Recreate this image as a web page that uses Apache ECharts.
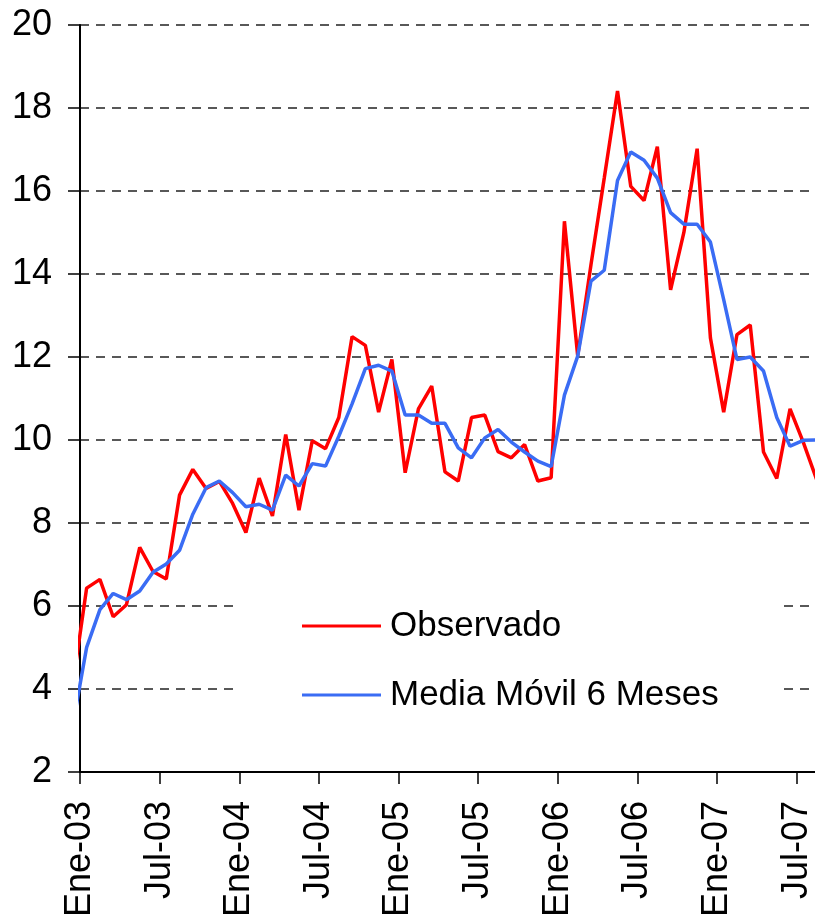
<!DOCTYPE html>
<html>
<head>
<meta charset="utf-8">
<script src="https://cdn.jsdelivr.net/npm/echarts@6/dist/echarts.min.js"></script>
<style>
  body { margin: 0; background: #fff; }
  #chart { width: 815px; height: 920px; }
</style>
</head>
<body>
<div id="chart"></div>
<script>
// meses: Dic-02 ... Ago-07 (el primero y el ultimo quedan fuera del recorte)
var meses = ['Dic-02',
    'Ene-03','Feb-03','Mar-03','Abr-03','May-03','Jun-03','Jul-03','Ago-03','Sep-03','Oct-03','Nov-03','Dic-03',
    'Ene-04','Feb-04','Mar-04','Abr-04','May-04','Jun-04','Jul-04','Ago-04','Sep-04','Oct-04','Nov-04','Dic-04',
    'Ene-05','Feb-05','Mar-05','Abr-05','May-05','Jun-05','Jul-05','Ago-05','Sep-05','Oct-05','Nov-05','Dic-05',
    'Ene-06','Feb-06','Mar-06','Abr-06','May-06','Jun-06','Jul-06','Ago-06','Sep-06','Oct-06','Nov-06','Dic-06',
    'Ene-07','Feb-07','Mar-07','Abr-07','May-07','Jun-07','Jul-07','Ago-07'];

var observado = [4.2,
    6.43, 6.64, 5.74, 6.03, 7.41, 6.83, 6.65, 8.67, 9.29, 8.83, 9.00, 8.47,
    7.77, 9.08, 8.17, 10.13, 8.31, 9.98, 9.79, 10.54, 12.49, 12.28, 10.67, 11.94,
    9.21, 10.75, 11.30, 9.23, 9.01, 10.54, 10.60, 9.72, 9.57, 9.89, 9.01, 9.09,
    15.27, 12.03, 14.22, 16.31, 18.41, 16.11, 15.77, 17.07, 13.62, 15.00, 17.02, 12.46,
    10.67, 12.54, 12.77, 9.71, 9.07, 10.75, 9.94, 9.05];

var mediaMovil = [3.2,
    5.00, 5.91, 6.30, 6.15, 6.36, 6.81, 7.01, 7.34, 8.21, 8.85, 9.01, 8.73,
    8.39, 8.45, 8.31, 9.15, 8.89, 9.43, 9.37, 10.09, 10.87, 11.72, 11.80, 11.66,
    10.60, 10.60, 10.40, 10.40, 9.81, 9.57, 10.05, 10.25, 9.95, 9.71, 9.49, 9.36,
    11.08, 12.02, 13.83, 14.09, 16.25, 16.94, 16.74, 16.31, 15.48, 15.20, 15.20, 14.77,
    13.38, 11.94, 12.00, 11.66, 10.54, 9.85, 9.99, 10.00];

var etiquetas = ['Ene-03','Jul-03','Ene-04','Jul-04','Ene-05','Jul-05','Ene-06','Jul-06','Ene-07','Jul-07'];

var fuente = 'Liberation Sans, Arial, sans-serif';

// cada dato a mitad de mes; eje x en meses desde Ene-03
function puntos(valores){
    var out = [];
    for (var i = 0; i < valores.length; i++){
        out.push([i - 0.5, valores[i]]);
    }
    return out;
}

var myChart = echarts.init(document.getElementById('chart'));

var xAxis = {
    type: 'value',
    min: 0,
    max: 55.38,
    interval: 6,
    axisLine: {show: true, onZero: false, lineStyle: {color: '#000', width: 2}},
    axisTick: {show: true, length: 12, lineStyle: {color: '#000', width: 1.5}},
    splitLine: {show: false},
    axisLabel: {
        rotate: 90,
        margin: 29,
        fontSize: 36,
        color: '#000',
        fontFamily: fuente,
        showMaxLabel: false,
        formatter: function(v){
            var i = Math.round(v / 6);
            return Math.abs(v - i * 6) < 0.01 && etiquetas[i] ? etiquetas[i] : '';
        }
    }
};

var yAxis = {
    type: 'value',
    min: 2,
    max: 20,
    interval: 2,
    axisLine: {show: true, lineStyle: {color: '#000', width: 2}},
    axisTick: {show: true, length: 12, lineStyle: {color: '#000', width: 1.5}},
    splitLine: {show: true, lineStyle: {color: '#222', width: 1.5, type: [9, 7]}},
    axisLabel: {margin: 28, fontSize: 36, color: '#000', fontFamily: fuente}
};

var legend = {
    orient: 'vertical',
    left: 240,
    top: 580,
    padding: [26, 63, 24, 62],
    backgroundColor: '#fff',
    icon: 'rect',
    itemWidth: 79,
    itemHeight: 3,
    itemGap: 29,
    textStyle: {fontSize: 35, color: '#000', fontFamily: fuente, lineHeight: 40, padding: [0, 0, 0, 4]},
    data: ['Observado', 'Media Móvil 6 Meses']
};

var series = [
    {
        name: 'Observado',
        type: 'line',
        data: puntos(observado),
        symbol: 'none',
        color: '#ff0000',
        lineStyle: {color: '#ff0000', width: 3.5},
        z: 3
    },
    {
        name: 'Media Móvil 6 Meses',
        type: 'line',
        data: puntos(mediaMovil),
        symbol: 'none',
        color: '#3a6cf4',
        lineStyle: {color: '#3a6cf4', width: 3.5},
        z: 4
    }
];

var option = {
    animation: false,
    backgroundColor: '#fff',
    grid: {left: 80, right: 0, top: 25, bottom: 147},
    legend: legend,
    xAxis: xAxis,
    yAxis: yAxis,
    series: series
};

myChart.setOption(option);
</script>
</body>
</html>
